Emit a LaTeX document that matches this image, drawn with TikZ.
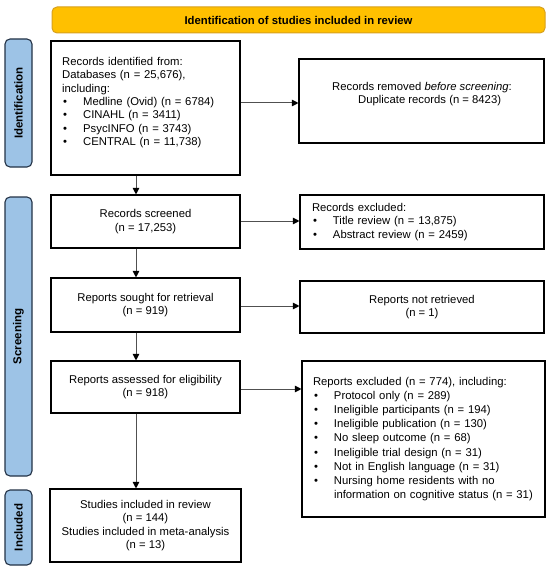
\documentclass[tikz,border=0pt]{standalone}
\usepackage{fontspec}
\setmainfont{Liberation Sans}
\usetikzlibrary{arrows.meta}
\definecolor{banfill}{RGB}{255,192,0}
\definecolor{banline}{RGB}{215,160,30}
\definecolor{sidefill}{RGB}{157,195,230}
\definecolor{sideline}{RGB}{35,50,70}
\definecolor{linegray}{RGB}{80,80,80}
\newcommand{\bul}{\makebox[21pt][l]{\hspace{1pt}\textbullet}}
\begin{document}
\begin{tikzpicture}[x=1pt,y=-1pt,
  font=\fontsize{11.3}{13.3}\selectfont,
  box/.style={draw=black, line width=1.1pt, inner sep=0pt, align=center},
  txt/.style={inner sep=0pt, align=left},
  side/.style={draw=sideline, fill=sidefill, line width=1.1pt, rounded corners=5pt, inner sep=0pt, rotate=90, font=\fontsize{11.5}{13.3}\selectfont\bfseries},
  banner/.style={draw=banline, fill=banfill, line width=1pt, rounded corners=5pt, inner sep=0pt, font=\fontsize{11.3}{13.3}\selectfont\bfseries},
  arr/.style={draw=linegray, line width=1pt, -{Triangle[length=6.5pt,width=6.5pt,fill=black,color=black]}}
]
\useasboundingbox (0,0) rectangle (550,572);

% banner
\node[banner, minimum width=493pt, minimum height=26pt] (ban) at (298.5,20) {Identification of studies included in review};

% side bars
\node[side, minimum width=128pt, minimum height=27pt] (s1) at (18.5,103) {Identification};
\node[side, minimum width=279pt, minimum height=27pt] (s2) at (18.5,336.5) {Screening};
\node[side, minimum width=75pt, minimum height=27pt] (s3) at (18.5,527.5) {Included};

% left column
\node[box, minimum width=189pt, minimum height=134pt] (idb) at (145.5,108) {};
\node[txt, anchor=west, text width=175pt] (idt) at (62,102.5) {Records identified from:\\
Databases (n = 25,676),\\
including:\\
\bul Medline (Ovid) (n = 6784)\\
\bul CINAHL (n = 3411)\\
\bul PsycINFO (n = 3743)\\
\bul CENTRAL (n = 11,738)};

\node[box, minimum width=189pt, minimum height=53pt] (scr) at (145.5,221.5) {Records screened\\(n = 17,253)};
\node[box, minimum width=189pt, minimum height=54pt] (sou) at (145.5,305) {Reports sought for retrieval\\(n = 919)};
\node[box, minimum width=189pt, minimum height=52pt] (ass) at (145.5,387) {Reports assessed for eligibility\\(n = 918)};
\node[box, minimum width=191pt, minimum height=73pt] (inc) at (145.5,525.5) {Studies included in review\\(n = 144)\\Studies included in meta-analysis\\(n = 13)};

% right column
\node[box, minimum width=245pt, minimum height=84pt] (rem) at (421.5,101) {};
\node[txt, anchor=west] (remt) at (332,94) {Records removed \textit{before screening}:\\\hspace*{26pt}Duplicate records (n = 8423)};

\node[box, minimum width=244pt, minimum height=54pt, text width=220pt, align=left] (exc) at (422,222) {Records excluded:\\
\bul Title review (n = 13,875)\\
\bul Abstract review (n = 2459)};

\node[box, minimum width=244pt, minimum height=52pt] (nre) at (422,307) {Reports not retrieved\\(n = 1)};

\node[box, minimum width=243pt, minimum height=156pt, text width=221pt, align=left, font=\fontsize{11.3}{14.1}\selectfont] (exb) at (423.5,439) {Reports excluded (n = 774), including:\\
\bul Protocol only (n = 289)\\
\bul Ineligible participants (n = 194)\\
\bul Ineligible publication (n = 130)\\
\bul No sleep outcome (n = 68)\\
\bul Ineligible trial design (n = 31)\\
\bul Not in English language (n = 31)\\
\bul Nursing home residents with no\\
\hspace*{21pt}information on cognitive status (n = 31)};

% connectors
\coordinate (ax) at (136,0);
\draw[arr] (idb.south -| ax) -- (scr.north -| ax);
\draw[arr] (scr.south -| ax) -- (sou.north -| ax);
\draw[arr] (sou.south -| ax) -- (ass.north -| ax);
\draw[arr] (ass.south -| ax) -- (inc.north -| ax);

\coordinate (h1) at (0,103);
\coordinate (h2) at (0,221);
\coordinate (h3) at (0,306);
\coordinate (h4) at (0,389);
\draw[arr] (idb.east |- h1) -- (rem.west |- h1);
\draw[arr] (scr.east |- h2) -- (exc.west |- h2);
\draw[arr] (sou.east |- h3) -- (nre.west |- h3);
\draw[arr] (ass.east |- h4) -- (exb.west |- h4);
\end{tikzpicture}
\end{document}
